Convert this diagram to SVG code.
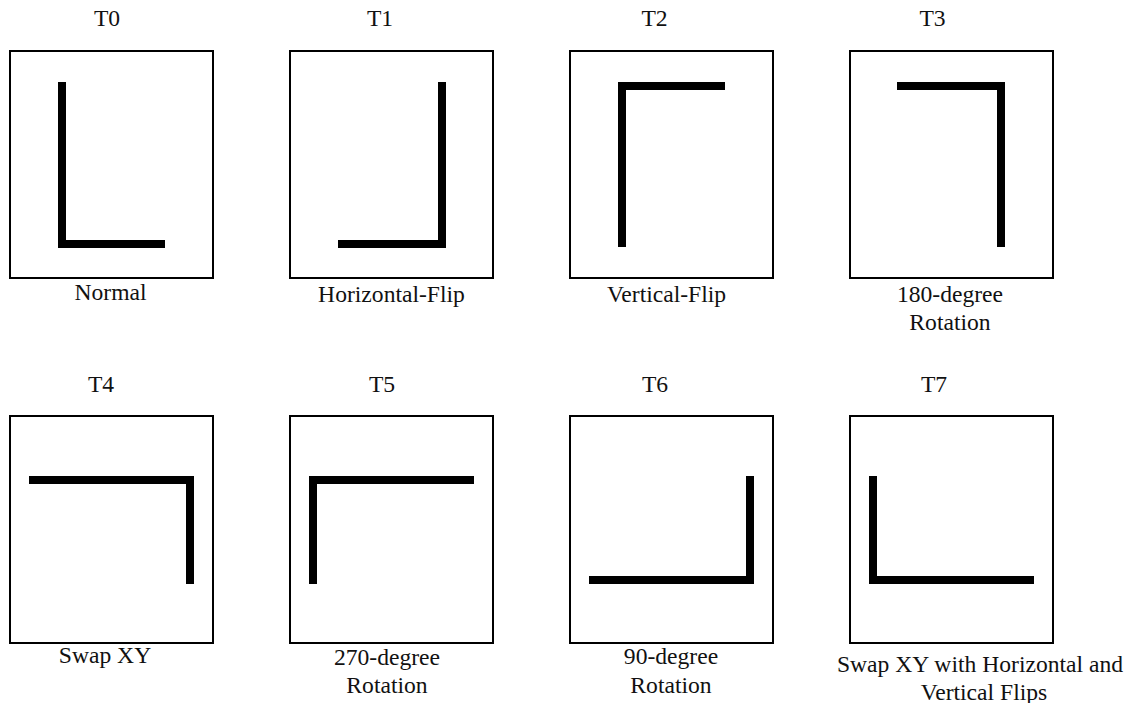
<svg xmlns="http://www.w3.org/2000/svg" width="1134" height="703" viewBox="0 0 1134 703">
<style>
.box{fill:#fff;stroke:#000;stroke-width:2}
.L{fill:none;stroke:#000;stroke-width:8;stroke-linejoin:miter;stroke-linecap:butt}
.t{font-family:'Liberation Serif','DejaVu Serif',serif;font-size:23.6px;fill:#111;text-anchor:middle}
</style>
<rect width="1134" height="703" fill="#fff"/>
<g id="T0">
<text class="t" x="107" y="26">T0</text>
<rect class="box" x="10" y="51" width="203" height="227"/>
<path class="L" d="M62,82 V244 H165"/>
<text class="t" x="110.5" y="300">Normal</text>
</g>
<g id="T1">
<text class="t" x="380" y="26">T1</text>
<rect class="box" x="290" y="51" width="203" height="227"/>
<path class="L" d="M338,244 H442 V82"/>
<text class="t" x="391.5" y="301.5">Horizontal-Flip</text>
</g>
<g id="T2">
<text class="t" x="654.5" y="26">T2</text>
<rect class="box" x="570" y="51" width="203" height="227"/>
<path class="L" d="M622,247 V86 H725"/>
<text class="t" x="666.5" y="301.5">Vertical-Flip</text>
</g>
<g id="T3">
<text class="t" x="932.5" y="26">T3</text>
<rect class="box" x="850" y="51" width="203" height="227"/>
<path class="L" d="M897,86 H1001 V247"/>
<text class="t" x="950" y="302">180-degree</text>
<text class="t" x="950" y="329.5">Rotation</text>
</g>
<g id="T4">
<text class="t" x="101" y="392">T4</text>
<rect class="box" x="10" y="416" width="203" height="227"/>
<path class="L" d="M29,480 H190 V584"/>
<text class="t" x="105" y="663">Swap XY</text>
</g>
<g id="T5">
<text class="t" x="382" y="392">T5</text>
<rect class="box" x="290" y="416" width="203" height="227"/>
<path class="L" d="M313,584 V480 H474"/>
<text class="t" x="387" y="665">270-degree</text>
<text class="t" x="387" y="693">Rotation</text>
</g>
<g id="T6">
<text class="t" x="655" y="392">T6</text>
<rect class="box" x="570" y="416" width="203" height="227"/>
<path class="L" d="M589,580 H750 V476"/>
<text class="t" x="671" y="663.5">90-degree</text>
<text class="t" x="671" y="693">Rotation</text>
</g>
<g id="T7">
<text class="t" x="934" y="392">T7</text>
<rect class="box" x="850" y="416" width="203" height="227"/>
<path class="L" d="M873,476 V580 H1034"/>
<text class="t" x="980" y="671.5">Swap XY with Horizontal and</text>
<text class="t" x="984" y="699.5">Vertical Flips</text>
</g>
<g id="connectors"></g>
</svg>
